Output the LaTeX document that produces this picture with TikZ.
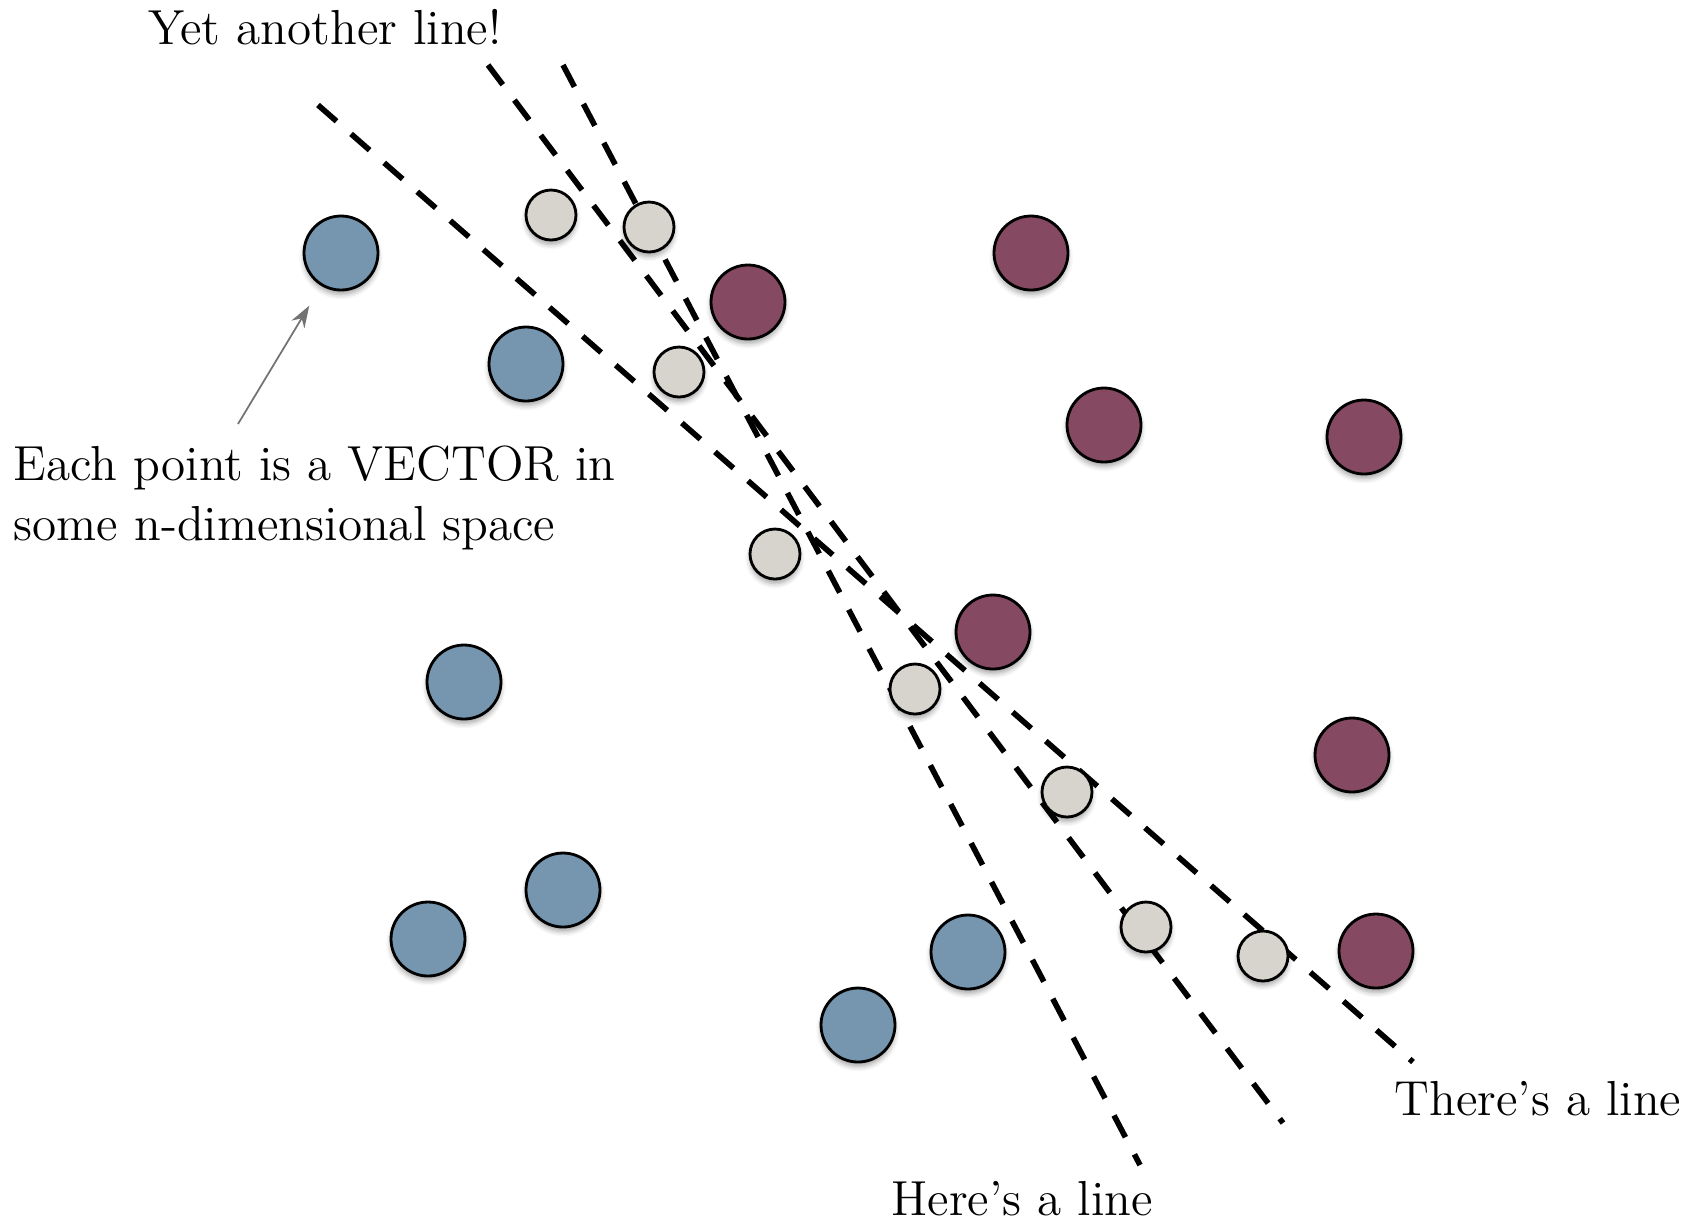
\documentclass[tikz,border=0pt]{standalone}
\usepackage{tikz}
\usetikzlibrary{arrows.meta,calc,shadows.blur}

\definecolor{dotblue}{HTML}{7596AE}
\definecolor{dotplum}{HTML}{854961}
\definecolor{dotgrey}{HTML}{D6D4CD}

\begin{document}
\begin{tikzpicture}[
    x=0.1mm,
    y=-0.1mm,
    >={Stealth[length=2.2mm, width=1.5mm]},
    sepline/.style={line width=1.6pt, black, dash pattern=on 7pt off 5.5pt},
    dotshadow/.style={blur shadow={shadow xshift=0pt, shadow yshift=-1.3pt,
                      shadow blur radius=1.4pt, shadow opacity=35}},
    bigdot/.style={circle, draw=black, line width=0.8pt, minimum size=7.4mm,
                   inner sep=0pt, dotshadow},
    bluedot/.style={bigdot, fill=dotblue},
    plumdot/.style={bigdot, fill=dotplum},
    greydot/.style={circle, draw=black, line width=0.8pt, minimum size=5mm,
                    inner sep=0pt, fill=dotgrey, dotshadow},
    pointer/.style={->, line width=0.5pt, black!55},
    caption/.style={font=\fontsize{14}{17}\selectfont, inner sep=0pt},
]
\useasboundingbox (0,0) rectangle (1704,1222);

% separating lines (end points)
\coordinate (la0) at (318,105);  \coordinate (la1) at (1413,1062);
\coordinate (lb0) at (488,65);   \coordinate (lb1) at (1283,1123);
\coordinate (lc0) at (563,65);   \coordinate (lc1) at (1140,1165);
\draw[sepline] (la0) -- (la1);
\draw[sepline] (lb0) -- (lb1);
\draw[sepline] (lc0) -- (lc1);

% class one
\foreach \n/\px/\py in {b1/341/253, b2/526/364, b3/464/682, b4/563/890,
                        b5/428/939, b6/968/952, b7/858/1025}{
  \node[bluedot] (\n) at (\px,\py) {};
}
% class two
\foreach \n/\px/\py in {p1/1031/253, p2/748/302, p3/1104/425, p4/1364/437,
                        p5/993/632, p6/1352/755, p7/1376/951}{
  \node[plumdot] (\n) at (\px,\py) {};
}
% points near the boundary
\foreach \n/\px/\py in {g1/551/215, g2/649/227, g3/679/372, g4/775/554,
                        g5/915/689, g6/1067/792, g7/1146/927, g8/1263/956}{
  \node[greydot] (\n) at (\px,\py) {};
}

% labels
\node[caption, anchor=base] (yetlbl) at (325,44) {Yet another line!};
\node[caption, anchor=north west, align=left] (vecnote) at (13,445)
  {Each point is a VECTOR in\\some n-dimensional space};
\node[caption, anchor=base west] (herelbl) at (891,1215) {Here's a line};
\node[caption, anchor=base west] (therelbl) at (1394,1115) {There's a line};

\coordinate (notetail) at (238,424);
\draw[pointer, shorten >=2.3mm] (notetail) -- (b1);
\end{tikzpicture}
\end{document}
